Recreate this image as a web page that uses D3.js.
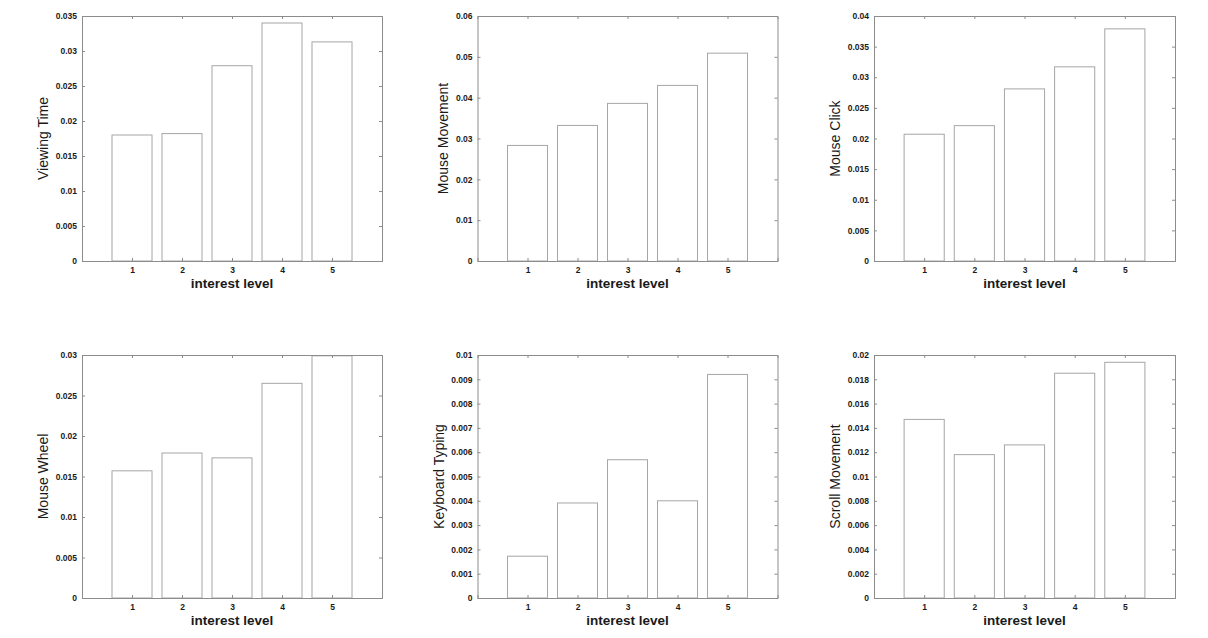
<!DOCTYPE html>
<html>
<head>
<meta charset="utf-8">
<script src="https://cdn.jsdelivr.net/npm/d3@7"></script>
<style>
  html, body { margin: 0; padding: 0; background: #fff; }
  svg { display: block; }
  text { font-family: "Liberation Sans", Arial, Helvetica, sans-serif; }
</style>
</head>
<body>
<svg id="chart" width="1208" height="638"></svg>
<script>
// ---- data ----
const categories = [1, 2, 3, 4, 5];
const xTicks = [1, 2, 3, 4, 5];
const xLabel = "interest level";

const viewingTime   = [0.0180, 0.0182, 0.0279, 0.0340, 0.0313];
const mouseMovement = [0.0283, 0.0332, 0.0386, 0.0430, 0.0509];
const mouseClick    = [0.0207, 0.0221, 0.0281, 0.0317, 0.0379];
const mouseWheel    = [0.0157, 0.0179, 0.0173, 0.0265, 0.0299];
const keyboardTyping= [0.00172, 0.00391, 0.00569, 0.00400, 0.00920];
const scrollMovement= [0.0147, 0.0118, 0.0126, 0.0185, 0.0194];

const yLabels = ["Viewing Time", "Mouse Movement", "Mouse Click", "Mouse Wheel", "Keyboard Typing", "Scroll Movement"];

const ticksViewing  = ["0", "0.005", "0.01", "0.015", "0.02", "0.025", "0.03", "0.035"];
const ticksMouseMov = ["0", "0.01", "0.02", "0.03", "0.04", "0.05", "0.06"];
const ticksClick    = ["0", "0.005", "0.01", "0.015", "0.02", "0.025", "0.03", "0.035", "0.04"];
const ticksWheel    = ["0", "0.005", "0.01", "0.015", "0.02", "0.025", "0.03"];
const ticksKeyboard = ["0", "0.001", "0.002", "0.003", "0.004", "0.005", "0.006", "0.007", "0.008", "0.009", "0.01"];
const ticksScroll   = ["0", "0.002", "0.004", "0.006", "0.008", "0.01", "0.012", "0.014", "0.016", "0.018", "0.02"];

const seriesList = [viewingTime, mouseMovement, mouseClick, mouseWheel, keyboardTyping, scrollMovement];
const tickList = [ticksViewing, ticksMouseMov, ticksClick, ticksWheel, ticksKeyboard, ticksScroll];

// ---- layout ----
const colLefts = [82, 477.5, 874];
const colRights = [382, 777.5, 1175];
const rowTops = [16, 355];
const rowBottoms = [261, 598];

const axisColor = "#8c8c8c";
const barStroke = "#a6a6a6";
const textColor = "#1a1a1a";

const svg = d3.select("#chart");

seriesList.forEach((values, i) => {
  const col = i % 3, row = Math.floor(i / 3);
  const L = colLefts[col], R = colRights[col], T = rowTops[row], B = rowBottoms[row];
  const ticks = tickList[i].map(Number);
  const yMax = ticks[ticks.length - 1];

  const x = d3.scaleLinear().domain([0, 6]).range([L, R]);
  const y = d3.scaleLinear().domain([0, yMax]).range([B, T]);

  const g = svg.append("g");

  // bars
  g.selectAll("rect.bar")
    .data(categories.map((c, k) => ({ c, v: values[k] })))
    .enter().append("rect")
    .attr("class", "bar")
    .attr("x", d => x(d.c - 0.4))
    .attr("width", d => x(d.c + 0.4) - x(d.c - 0.4))
    .attr("y", d => y(d.v))
    .attr("height", d => y(0) - y(d.v))
    .attr("fill", "#fff")
    .attr("stroke", barStroke)
    .attr("stroke-width", 1);

  // axes (box)
  const tickLen = 3;
  const leftAxis = d3.axisLeft(y).tickValues(ticks).tickSize(-tickLen).tickPadding(5)
    .tickFormat((d, k) => tickList[i][k]);
  const rightAxis = d3.axisRight(y).tickValues(ticks).tickSize(-tickLen).tickFormat("");
  const bottomAxis = d3.axisBottom(x).tickValues(xTicks).tickSize(-tickLen).tickPadding(6)
    .tickFormat(d3.format("d"));
  const topAxis = d3.axisTop(x).tickValues(xTicks).tickSize(-tickLen).tickFormat("");

  const styleAxis = sel => {
    sel.select(".domain").attr("stroke", axisColor).attr("stroke-width", 1);
    sel.selectAll(".tick line").attr("stroke", axisColor);
    sel.selectAll(".tick text").attr("fill", textColor)
      .style("font-size", "8.5px").style("font-weight", "bold")
      .style("font-family", '"Liberation Sans", Arial, sans-serif');
  };

  const la = g.append("g").attr("transform", `translate(${L},0)`).call(leftAxis).call(styleAxis);
  g.append("g").attr("transform", `translate(${R},0)`).call(rightAxis).call(styleAxis);
  g.append("g").attr("transform", `translate(0,${B})`).call(bottomAxis).call(styleAxis);
  g.append("g").attr("transform", `translate(0,${T})`).call(topAxis).call(styleAxis);

  // measure widest y tick label
  let maxW = 0;
  la.selectAll(".tick text").each(function() { maxW = Math.max(maxW, this.getComputedTextLength()); });
  const labelsLeft = L - 5 - maxW;

  // y label
  g.append("text")
    .attr("transform", `translate(${labelsLeft - 7.5},${(T + B) / 2}) rotate(-90)`)
    .attr("text-anchor", "middle")
    .attr("fill", textColor)
    .style("font-size", "14px")
    .text(yLabels[i]);

  // x label
  g.append("text")
    .attr("x", (L + R) / 2)
    .attr("y", B + 27)
    .attr("text-anchor", "middle")
    .attr("fill", textColor)
    .style("font-size", "13.5px")
    .style("font-weight", "bold")
    .text(xLabel);
});
</script>
</body>
</html>
